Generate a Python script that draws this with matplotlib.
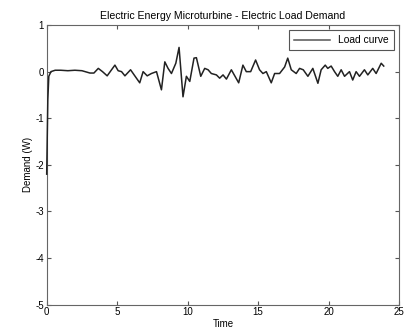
import numpy as np
import matplotlib
matplotlib.use('Agg')
from matplotlib import pyplot as plt

plt.rcParams['font.family'] = ['Liberation Sans', 'DejaVu Sans']
plt.rcParams['axes.unicode_minus'] = False

# load curve
time = [0.0, 0.08, 0.15, 0.3, 0.6, 1.0, 1.5, 2.0, 2.5, 3.07, 3.35, 3.66, 3.96,
        4.29, 4.84, 5.07, 5.31, 5.55, 5.95, 6.25, 6.6, 6.84, 7.13, 7.43, 7.79,
        8.14, 8.38, 8.61, 8.85, 9.16, 9.39, 9.67, 9.91, 10.15, 10.45, 10.62,
        10.93, 11.21, 11.45, 11.68, 12.04, 12.27, 12.51, 12.75, 13.1, 13.62,
        13.92, 14.16, 14.47, 14.82, 15.1, 15.34, 15.58, 15.93, 16.17, 16.52,
        16.88, 17.1, 17.35, 17.7, 17.94, 18.2, 18.53, 18.88, 19.24, 19.47,
        19.76, 19.94, 20.18, 20.42, 20.65, 20.89, 21.13, 21.48, 21.71, 21.95,
        22.19, 22.54, 22.78, 23.13, 23.37, 23.73, 23.91]
demand = [-2.2, -0.6, -0.1, 0.0, 0.03, 0.03, 0.02, 0.03, 0.02, -0.03, -0.03,
          0.07, 0.0, -0.09, 0.14, 0.02, 0.0, -0.09, 0.04, -0.09, -0.24, 0.0,
          -0.09, -0.04, 0.0, -0.39, 0.21, 0.07, -0.04, 0.18, 0.52, -0.54, -0.1,
          -0.21, 0.29, 0.3, -0.1, 0.07, 0.04, -0.04, -0.07, -0.14, -0.07, -0.16,
          0.04, -0.24, 0.14, 0.0, 0.0, 0.25, 0.04, -0.04, 0.0, -0.24, -0.04,
          -0.04, 0.1, 0.29, 0.04, -0.04, 0.07, 0.04, -0.1, 0.07, -0.25, 0.04,
          0.14, 0.07, 0.12, 0.0, -0.1, 0.04, -0.1, 0.0, -0.18, 0.0, -0.1, 0.04,
          -0.07, 0.07, -0.04, 0.18, 0.12]

fig = plt.figure(figsize=(4.06, 3.34), dpi=100)
ax = fig.add_axes([0.115, 0.088, 0.868, 0.837])
ax.plot(time, demand, color='#222222', linewidth=1.1, label='Load curve',
        zorder=3, clip_on=False)
ax.set_xlim(0, 25)
ax.set_ylim(-5, 1)
ax.set_xticks(np.arange(0, 26, 5))
ax.set_yticks(np.arange(-5, 2, 1))
ax.tick_params(direction='in', top=True, right=True, labelsize=7, length=3, pad=2,
               color='#555555')
for s in ax.spines.values():
    s.set_color('#666666')
ax.set_title('Electric Energy Microturbine - Electric Load Demand', fontsize=7.6, pad=4)
ax.set_xlabel('Time', fontsize=7, labelpad=1)
ax.set_ylabel('Demand (W)', fontsize=7, labelpad=2)
leg = ax.legend(loc='upper right', fontsize=7.4, fancybox=False, framealpha=1,
                edgecolor='#555555', borderpad=0.5, handlelength=3.5)
leg.get_frame().set_linewidth(0.8)
leg.get_lines()[0].set_color('#555555')
fig.savefig('out.png', dpi=100)
